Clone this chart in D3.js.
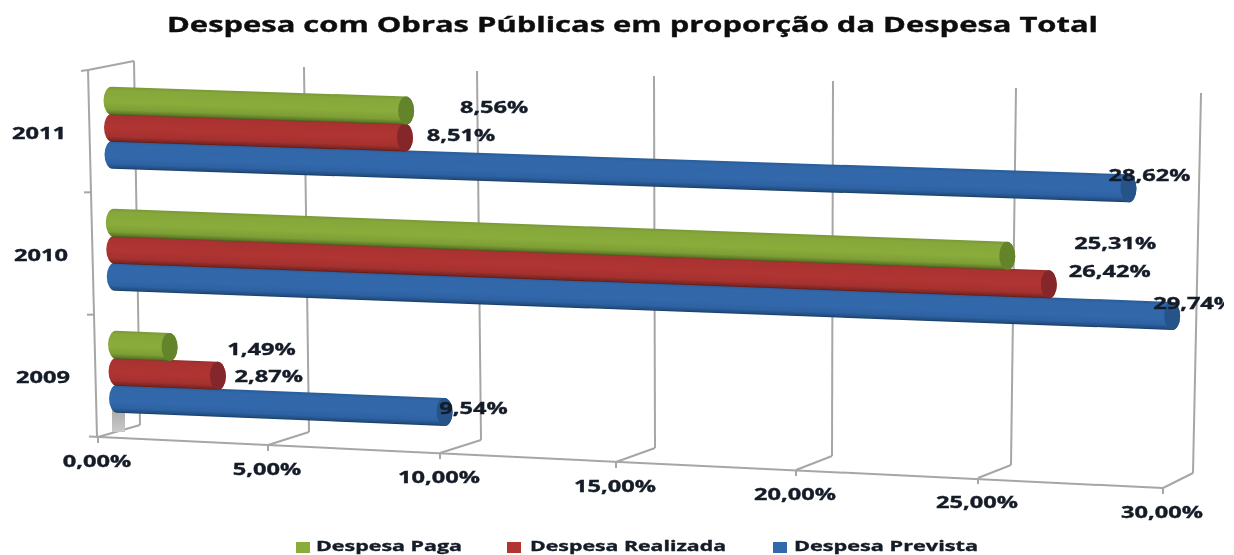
<!DOCTYPE html>
<html>
<head>
<meta charset="utf-8">
<script src="https://cdn.jsdelivr.net/npm/d3@7"></script>
<style>
html,body{margin:0;padding:0;background:#fff;overflow:hidden}
svg{display:block}
text{font-family:"Open Sans",sans-serif;font-weight:700;fill:#141a28;stroke:#141a28;stroke-width:.35px;paint-order:stroke}
</style>
</head>
<body>
<svg id="c" width="1234" height="555"></svg>
<script>
// ---- data ----
const title = "Despesa com Obras Públicas em proporção da Despesa Total";
const years = ["2011", "2010", "2009"];
const seriesNames = ["Despesa Paga", "Despesa Realizada", "Despesa Prevista"];
const despesaPaga = [8.56, 25.31, 1.49];
const despesaRealizada = [8.51, 26.42, 2.87];
const despesaPrevista = [28.62, 29.74, 9.54];
const xTicks = [0, 5, 10, 15, 20, 25, 30];
const fmt = v => v.toFixed(2).replace(".", ",") + "%";

// ---- layout (perspective projection of the 3D frame) ----
const frontX = [98, 268, 440, 616, 796, 978, 1163];
const frontY = [437, 445, 453, 462, 470, 478, 488];
const backBotX = [140, 309, 481, 655, 832, 1011, 1193];
const backBotY = [425, 432, 440, 448, 456, 465, 473];
const backTopX = [134, 304, 477, 654, 833, 1016, 1201];
const backTopY = [61, 67, 71, 76, 81, 88, 93];
const barOffset = [10, 183, 351, 530, 710, 890, 1075];
const yearSlope = [0.033, 0.037, 0.040];
const labelNudge = [
  [[80, -4], [48, -3.5], [13, -14]],
  [[100, -14], [53, -14], [14, -14]],
  [[84, 1], [43, -0.5], [21, -5]]
];
const barH = 28, capRx = 8;

const stopsAt = [0, 0.12, 0.55, 0.82, 0.95, 1];
const palettes = [
  {s: ["#789836", "#86a83a", "#8aac3b", "#7d9e35", "#5e7a28", "#47601c"], cap: "#64842b"},
  {s: ["#9c2e2c", "#ab3331", "#b03432", "#a3302e", "#7e2624", "#5e1a19"], cap: "#84282a"},
  {s: ["#2a5c9a", "#3067a8", "#3269ac", "#2e62a3", "#224e80", "#183a60"], cap: "#265388"}
];

const svg = d3.select("#c");
const defs = svg.append("defs");
defs.append("filter").attr("id", "soft").attr("x", "-5%").attr("y", "-5%").attr("width", "110%").attr("height", "110%")
  .append("feGaussianBlur").attr("stdDeviation", 0.55);
defs.append("clipPath").attr("id", "labelClip").append("rect")
  .attr("x", 0).attr("y", 0).attr("width", 1224).attr("height", 555);

palettes.forEach((p, i) => {
  const g = defs.append("linearGradient").attr("id", "cyl" + i)
    .attr("x1", 0).attr("x2", 0).attr("y1", 0).attr("y2", 1);
  stopsAt.forEach((o, k) =>
    g.append("stop").attr("offset", o).attr("stop-color", p.s[k]));
});
const shadow = defs.append("linearGradient").attr("id", "floorShade")
  .attr("x1", 0).attr("x2", 0).attr("y1", 0).attr("y2", 1);
shadow.append("stop").attr("offset", 0).attr("stop-color", "#a4a4a4");
shadow.append("stop").attr("offset", 1).attr("stop-color", "#cacaca");

// scales
const fx = d3.scaleLinear().domain(xTicks).range(frontX);
const fy = d3.scaleLinear().domain(xTicks).range(frontY);
const bbx = d3.scaleLinear().domain(xTicks).range(backBotX);
const bby = d3.scaleLinear().domain(xTicks).range(backBotY);
const btx = d3.scaleLinear().domain(xTicks).range(backTopX);
const bty = d3.scaleLinear().domain(xTicks).range(backTopY);
const off = d3.scaleLinear().domain(xTicks).range(barOffset);
const yYear = d3.scalePoint().domain(years).range([127.5, 371.5]);
const ySeries = d3.scalePoint().domain(seriesNames).range([-27, 27]);
const xStart = d3.scaleLinear().domain([100, 397]).range([103.5, 109]);

const root = svg.append("g").attr("filter", "url(#soft)");
const grid = "#a6a6a6";

// horizontally stretched text helper
function wide(sel, x, y, s, sx, size) {
  return sel.append("text")
    .attr("text-anchor", "middle")
    .attr("dominant-baseline", "central")
    .attr("font-size", size)
    .attr("transform", `translate(${x},${y}) scale(${sx},1)`)
    .text(s);
}

// title
root.append("text").attr("x", 167).attr("y", 31.5)
  .attr("font-size", 20.5).attr("textLength", 931).attr("lengthAdjust", "spacingAndGlyphs")
  .style("fill", "#0c0c10").style("stroke", "#0c0c10").text(title);

// frame
const frame = root.append("g").attr("fill", "none").attr("stroke", grid).attr("stroke-width", 2);
xTicks.forEach(t => {
  frame.append("line").attr("x1", bbx(t)).attr("y1", bby(t)).attr("x2", btx(t)).attr("y2", bty(t));
  frame.append("line").attr("x1", fx(t)).attr("y1", fy(t)).attr("x2", bbx(t)).attr("y2", bby(t));
  frame.append("line").attr("x1", fx(t)).attr("y1", fy(t)).attr("x2", fx(t)).attr("y2", fy(t) + 6);
});
frame.append("line").attr("x1", fx(0) - 9).attr("y1", fy(0) - 0.5).attr("x2", fx(30)).attr("y2", fy(30));
// left wall with category ticks
const wallY = d3.scaleLinear().domain([0, 3]).range([70, 437]);
const wallX = d3.scaleLinear().domain([0, 3]).range([88, 97]);
frame.append("line").attr("x1", wallX(0)).attr("y1", wallY(0)).attr("x2", wallX(3)).attr("y2", wallY(3));
d3.range(0, 3).forEach(i => {
  frame.append("line").attr("x1", wallX(i) - 7).attr("y1", wallY(i) + (i === 0 ? 1 : 0))
    .attr("x2", wallX(i)).attr("y2", wallY(i));
});
frame.append("line").attr("x1", wallX(0)).attr("y1", wallY(0)).attr("x2", btx(0)).attr("y2", bty(0));

// grey foot shadow beneath the lowest group
root.append("rect").attr("x", 112).attr("y", 405).attr("width", 13).attr("height", 27)
  .attr("fill", "url(#floorShade)");

// bars
const order = [2, 1, 0];
years.forEach((yr, yi) => {
  order.forEach(si => {
    const v = [despesaPaga, despesaRealizada, despesaPrevista][si][yi];
    const yc = yYear(yr) + ySeries(seriesNames[si]);
    const x0 = xStart(yc);
    const L = off(v) + capRx;
    const a = Math.atan(yearSlope[yi]) * 180 / Math.PI;
    const g = root.append("g").attr("transform", `translate(${x0},${yc}) skewY(${a})`);
    g.append("rect").attr("x", 0).attr("y", -barH / 2).attr("width", L).attr("height", barH)
      .attr("rx", capRx).attr("ry", barH / 2).attr("fill", `url(#cyl${si})`);
    g.append("ellipse").attr("cx", L - capRx).attr("cy", 0).attr("rx", capRx).attr("ry", barH / 2)
      .attr("fill", palettes[si].cap);
  });
});

// data labels
const labelG = root.append("g").attr("clip-path", "url(#labelClip)");
years.forEach((yr, yi) => {
  [despesaPaga, despesaRealizada, despesaPrevista].forEach((arr, si) => {
    const v = arr[yi];
    const yc = yYear(yr) + ySeries(seriesNames[si]);
    const x0 = xStart(yc);
    const L = off(v) + capRx;
    const [dx, dy] = labelNudge[yi][si];
    wide(labelG, x0 + L + dx, yc + L * yearSlope[yi] + dy, fmt(v), 1.43, 16.5);
  });
});

// axis tick labels
xTicks.forEach(t => wide(root, fx(t) - 1, fy(t) + 24, fmt(t), 1.43, 16.5));

// category labels
const yearLabelX = d3.scalePoint().domain(years).range([39, 43]);
years.forEach(y => wide(root, yearLabelX(y), yYear(y) + 5.5, y, 1.43, 16.5));

// legend
const legSwatch = [296, 507, 773];
const legText = [316, 530, 794];
const legLen = [146, 196, 184];
seriesNames.forEach((n, i) => {
  root.append("rect").attr("x", legSwatch[i]).attr("y", 542).attr("width", 14).attr("height", 11)
    .attr("fill", palettes[i].s[2]);
  root.append("text").attr("x", legText[i]).attr("y", 551).attr("font-size", 15)
    .attr("textLength", legLen[i]).attr("lengthAdjust", "spacingAndGlyphs").text(n);
});
</script>
</body>
</html>
